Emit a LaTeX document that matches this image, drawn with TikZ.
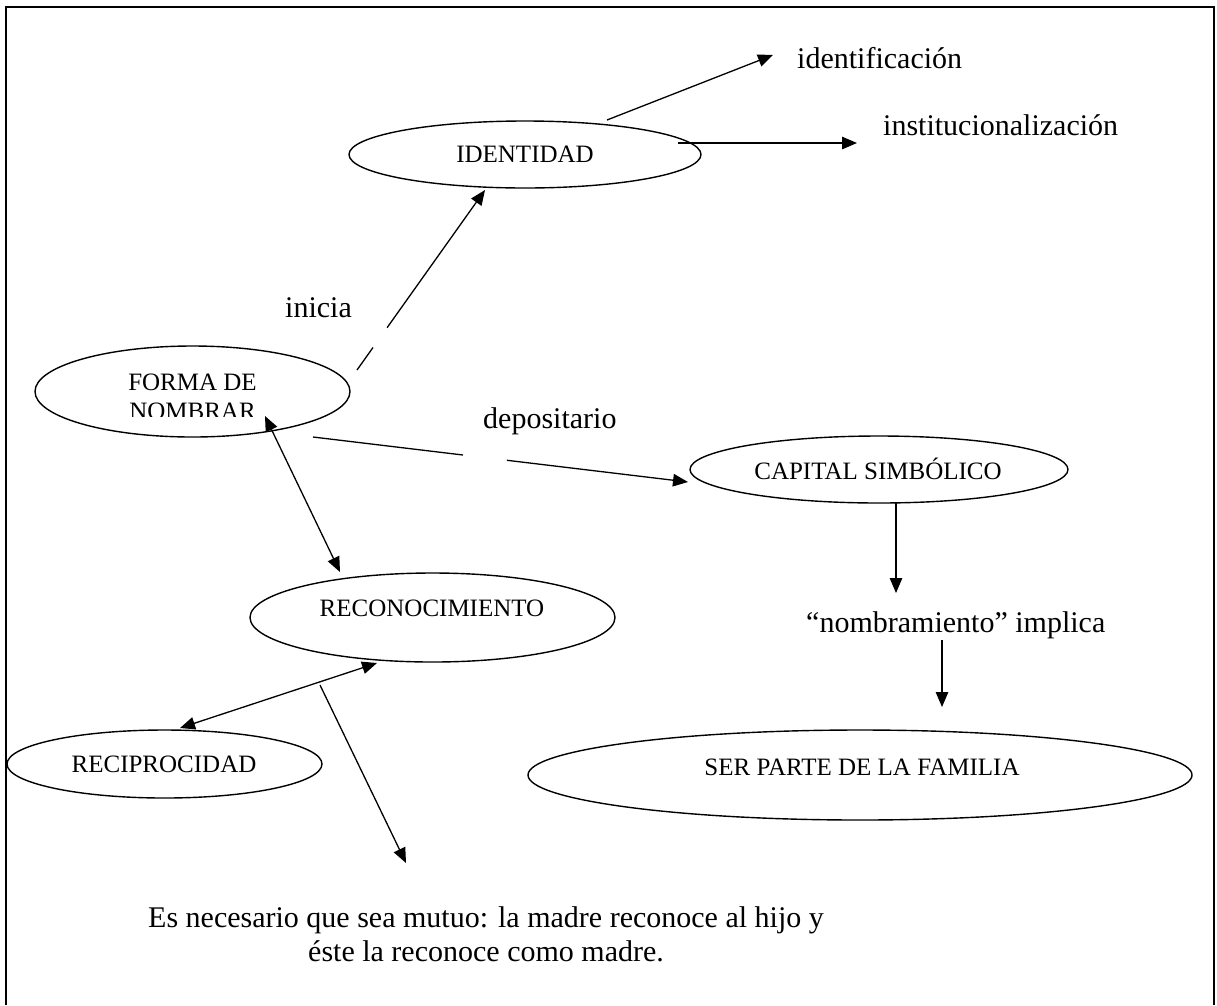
\documentclass[tikz,border=0pt]{standalone}
\usepackage{fontspec}
\setmainfont{Liberation Serif}
\usetikzlibrary{arrows.meta,shapes.geometric,calc}
\begin{document}
\begin{tikzpicture}[x=1pt,y=-1pt,
  oval/.style={draw,ellipse,line width=1.4pt,inner sep=0pt},
  ntext/.style={font=\fontsize{25}{29}\selectfont,anchor=base,inner sep=0pt},
  ltext/.style={font=\fontsize{30}{34}\selectfont,anchor=base,inner sep=0pt},
  conn/.style={line width=1.3pt},
  arr/.style={conn,-{Triangle[length=15pt,width=12.5pt]}},
  darr/.style={conn,{Triangle[length=15pt,width=12.5pt]}-{Triangle[length=15pt,width=12.5pt]}}]
\useasboundingbox (0,0) rectangle (1217,1005);
% frame
\draw[line width=1.3pt] (6,1005) -- (6,7) -- (1214,7) -- (1214,1005);
% ellipses
\node[oval,minimum width=352pt,minimum height=67pt] (ident) at (525,154.5) {};
\node[ntext] (identt) at (525,162) {IDENTIDAD};
\node[oval,minimum width=315pt,minimum height=91pt] (forma) at (192.5,391.5) {};
\begin{scope}
\clip (30,340) rectangle (360,416);
\node[ntext] (format1) at (192.5,390) {FORMA DE};
\node[ntext] (format2) at (192.5,419) {NOMBRAR};
\end{scope}
\node[oval,minimum width=365pt,minimum height=89pt] (recon) at (432.5,617.5) {};
\node[ntext] (recont) at (432,616) {RECONOCIMIENTO};
\node[oval,minimum width=315pt,minimum height=68pt] (recip) at (164.5,764) {};
\node[ntext] (recipt) at (164,772) {RECIPROCIDAD};
\node[oval,minimum width=378pt,minimum height=67pt] (capital) at (879,469.5) {};
\node[ntext] (capitalt) at (878,479) {CAPITAL SIMBÓLICO};
\node[oval,minimum width=664pt,minimum height=90pt] (ser) at (860,775) {};
\node[ntext] (sert) at (862,775) {SER PARTE DE LA FAMILIA};
% labels
\node[ltext,anchor=base west] (identif) at (797,68) {identificación};
\node[ltext,anchor=base west] (instit) at (883,135) {institucionalización};
\node[ltext,anchor=base west] (inicia) at (285,317) {inicia};
\node[ltext,anchor=base west] (depos) at (483,428) {depositario};
\node[ltext,anchor=base west] (nombr) at (806,632) {“nombramiento” implica};
\node[ltext,anchor=base] (mutuo1) at (486,927) {Es necesario que sea mutuo: la madre reconoce al hijo y};
\node[ltext,anchor=base] (mutuo2) at (486,961) {éste la reconoce como madre.};
% connector end points
\coordinate (iniS) at ($(forma.center)+(164.5,-21.5)$);
\coordinate (iniE) at ($(ident.center)+(-40,35.5)$);
\coordinate (iniG1) at ($(iniS)!0.125!(iniE)$);
\coordinate (iniG2) at ($(iniS)!0.235!(iniE)$);
\coordinate (idfS) at ($(ident.center)+(82,-34.5)$);
\coordinate (idfE) at ($(identif.base west)+(-24,-13)$);
\coordinate (insS) at ($(ident.center)+(153,-11.5)$);
\coordinate (insE) at ($(instit.base west)+(-26,8)$);
\coordinate (depS) at ($(forma.center)+(120.5,45.5)$);
\coordinate (depE) at ($(capital.center)+(-191,12.5)$);
\coordinate (depG1) at ($(depS)!0.40!(depE)$);
\coordinate (depG2) at ($(depS)!0.517!(depE)$);
\coordinate (fr1) at ($(forma.center)+(72.5,24.5)$);
\coordinate (fr2) at ($(recon.center)+(-92.5,-45.5)$);
\coordinate (rr1) at ($(recon.center)+(-55.5,45.5)$);
\coordinate (rr2) at ($(recip.center)+(15.5,-36)$);
\coordinate (rtS) at ($(recon.center)+(-112.5,67.5)$);
\coordinate (rtE) at (406,863);
\coordinate (capS) at ($(capital.center)+(17,33.5)$);
\coordinate (capE) at ($(nombr.base west)+(90,-39)$);
\coordinate (nomS) at ($(nombr.base west)+(136,8)$);
\coordinate (nomE) at ($(ser.center)+(82,-68)$);
% connectors
\draw[conn] (iniS) -- (iniG1);
\draw[arr] (iniG2) -- (iniE);
\draw[arr] (idfS) -- (idfE);
\draw[arr] (insS) -- (insE);
\draw[conn] (depS) -- (depG1);
\draw[arr] (depG2) -- (depE);
\draw[darr] (fr1) -- (fr2);
\draw[darr] (rr1) -- (rr2);
\draw[arr] (rtS) -- (rtE);
\draw[arr] (capS) -- (capE);
\draw[arr] (nomS) -- (nomE);
\end{tikzpicture}
\end{document}
